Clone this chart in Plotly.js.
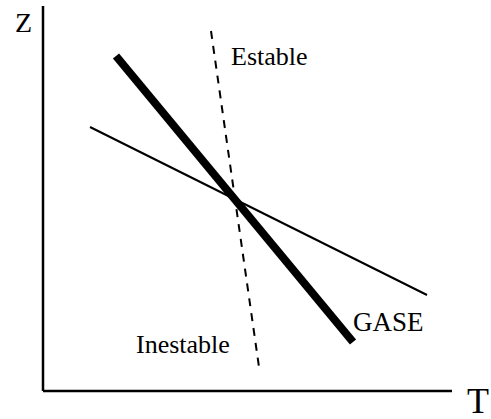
<!DOCTYPE html>
<html>
<head>
<meta charset="utf-8">
<script src="https://cdn.plot.ly/plotly-3.0.1.min.js"></script>
<style>html,body{margin:0;padding:0;background:#fff;}#chart{width:491px;height:419px;}</style>
</head>
<body>
<div id="chart"></div>
<script>
// Axis frame (origin at the corner of the T and Z axes)
const zAxisX = [0, 0];
const zAxisY = [0, 385];
const tAxisX = [0, 409];
const tAxisY = [0, 0];
// GASE line (thick)
const gaseX = [73, 310];
const gaseY = [335, 49];
// Thin line
const thinX = [47, 384];
const thinY = [264, 96];
// Dashed line (stable / unstable)
const dashX = [168, 216];
const dashY = [360, 24];
// Labels
const labelText = ["Z", "T", "Estable", "GASE", "Inestable"];
const labelX = [-19.5, 423, 187, 309, 92];
const labelY = [369, -10, 335, 69.5, 47];

const serif = 'Liberation Serif, Times New Roman, serif';
const black = '#000';

const traces = [
  {x: zAxisX, y: zAxisY, mode: 'lines', line: {color: black, width: 2.5}},
  {x: tAxisX, y: tAxisY, mode: 'lines', line: {color: black, width: 2.5}},
  {x: thinX, y: thinY, mode: 'lines', line: {color: black, width: 2}},
  {x: dashX, y: dashY, mode: 'lines', line: {color: black, width: 2, dash: '8px,7px'}},
  {x: gaseX, y: gaseY, mode: 'lines', line: {color: black, width: 8}}
];

const sizes = [28, 36, 26, 27, 26];
const anchors = ['center', 'left', 'left', 'left', 'left'];
const annotations = labelText.map((t, i) => ({
  x: labelX[i], y: labelY[i], text: t, showarrow: false,
  xanchor: anchors[i], yanchor: 'middle', borderpad: 0,
  font: {family: serif, size: sizes[i], color: black}
}));

const layout = {
  width: 491, height: 419,
  margin: {l: 0, r: 0, t: 0, b: 0},
  paper_bgcolor: '#fff', plot_bgcolor: '#fff',
  showlegend: false,
  font: {family: serif},
  xaxis: {range: [-43, 448], visible: false, fixedrange: true},
  yaxis: {range: [-28, 391], visible: false, fixedrange: true},
  annotations: annotations
};

Plotly.newPlot('chart', traces, layout, {displayModeBar: false, staticPlot: true});
</script>
</body>
</html>
